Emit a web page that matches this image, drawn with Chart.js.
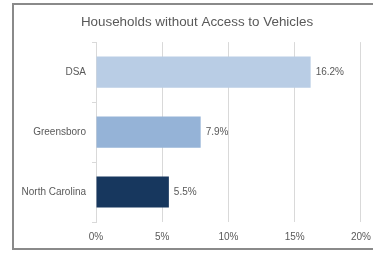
<!DOCTYPE html>
<html lang="en">
<head>
    <meta charset="UTF-8">
    <title>Households without Access to Vehicles</title>
    <script src="https://cdn.jsdelivr.net/npm/chart.js"></script>
    <style>
        html, body { margin: 0; padding: 0; background: #fff; overflow: hidden; }
        .page { position: relative; width: 373px; height: 253px; overflow: hidden; }
        .frame {
            position: absolute;
            left: 12px;
            top: 3px;
            width: 366px;
            height: 243px;
            border-left: 2px solid #8a8a8a;
            border-top: 2px solid #8a8a8a;
            border-bottom: 2px solid #8a8a8a;
        }
    </style>
</head>
<body>
    <div class="page">
        <div class="frame">
            <canvas id="myChart" width="366" height="243"></canvas>
        </div>
    </div>
    <script>
        const categories = ['DSA', 'Greensboro', 'North Carolina'];
        const values = [16.2, 7.9, 5.5];
        const barColors = ['#b9cde5', '#95b3d7', '#17375e'];
        const xTicks = [0, 5, 10, 15, 20];

        const textColor = '#595959';
        const fontFamily = '"Liberation Sans", Arial, sans-serif';

        // valeurs au bout des barres
        const barLabels = {
            id: 'barLabels',
            afterDatasetsDraw(chart) {
                const ctx = chart.ctx;
                const meta = chart.getDatasetMeta(0);
                ctx.save();
                ctx.font = '10px ' + fontFamily;
                ctx.fillStyle = textColor;
                ctx.textAlign = 'left';
                ctx.textBaseline = 'middle';
                meta.data.forEach((bar, i) => {
                    ctx.fillText(values[i].toFixed(1) + '%', bar.x + 5, bar.y);
                });
                ctx.restore();
            }
        };

        new Chart(document.getElementById('myChart').getContext('2d'), {
            type: 'bar',
            plugins: [barLabels],
            data: {
                labels: categories,
                datasets: [{
                    data: values,
                    backgroundColor: barColors,
                    categoryPercentage: 1,
                    barPercentage: 0.52
                }]
            },
            options: {
                indexAxis: 'y',
                responsive: false,
                animation: false,
                layout: { padding: 0 },
                plugins: {
                    legend: { display: false },
                    tooltip: { enabled: false },
                    title: {
                        display: true,
                        text: 'Households without Access to Vehicles',
                        color: textColor,
                        font: { family: fontFamily, size: 13.4, weight: 'normal' },
                        padding: { top: 9, bottom: 12 }
                    }
                },
                scales: {
                    x: {
                        min: 0,
                        max: 20,
                        afterBuildTicks: (scale) => { scale.ticks = xTicks.map(v => ({ value: v })); },
                        afterFit: (scale) => { scale.height = 26; },
                        ticks: {
                            callback: (v) => v + '%',
                            color: textColor,
                            font: { family: fontFamily, size: 10 },
                            padding: 9,
                            maxRotation: 0
                        },
                        grid: { color: '#d9d9d9', drawTicks: false },
                        border: { display: false }
                    },
                    y: {
                        afterFit: (scale) => { scale.width = 82; },
                        ticks: {
                            color: textColor,
                            font: { family: fontFamily, size: 10 },
                            padding: 6
                        },
                        grid: {
                            offset: true,
                            drawOnChartArea: false,
                            tickLength: 4,
                            color: '#d9d9d9'
                        },
                        border: { color: '#d9d9d9' }
                    },
                    // marge droite vide (le titre reste centré sur tout le cadre)
                    yRight: {
                        type: 'linear',
                        position: 'right',
                        afterFit: (scale) => { scale.width = 15; },
                        ticks: { display: false },
                        grid: { display: false },
                        border: { display: false }
                    }
                }
            }
        });
    </script>
</body>
</html>
